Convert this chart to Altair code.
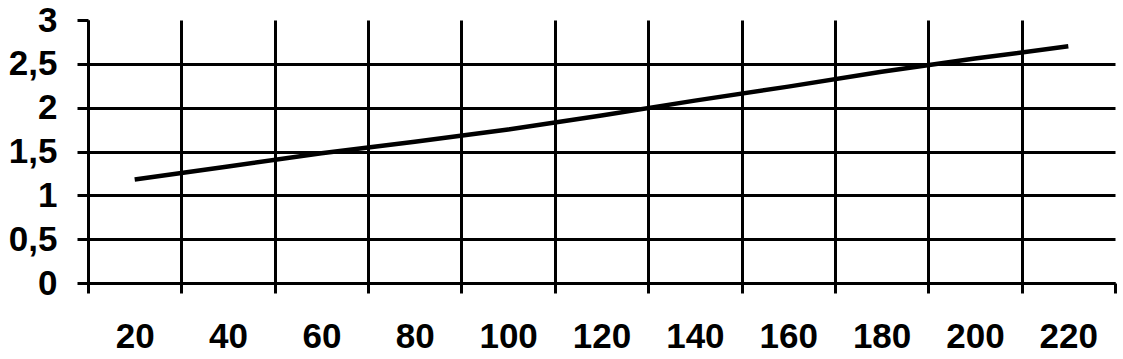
import altair as alt
import pandas as pd

# Data
x_vals = [20, 40, 60, 80, 100, 120, 140, 160, 180, 200, 220]
y_vals = [1.18, 1.33, 1.48, 1.61, 1.75, 1.91, 2.08, 2.24, 2.41, 2.56, 2.70]
x_tick_values = [10, 20, 30, 40, 50, 60, 70, 80, 90, 100, 110, 120,
                 130, 140, 150, 160, 170, 180, 190, 200, 210, 220, 230]
y_tick_values = [0, 0.5, 1, 1.5, 2, 2.5, 3]

df = pd.DataFrame({"x": x_vals, "y": y_vals})

FONT = "Liberation Sans"

x_axis = alt.Axis(
    values=x_tick_values,
    title=None,
    labelExpr="datum.value % 20 == 0 ? datum.label : ''",
    labelFont=FONT,
    labelFontSize=35,
    labelFontWeight="bold",
    labelColor="black",
    labelPadding=26,
    labelAngle=0,
    labelOverlap=False,
    labelFlush=False,
    domainColor="black",
    domainWidth=3,
    ticks=True,
    tickColor="black",
    tickWidth=3,
    tickSize=10,
    tickOpacity={"condition": {"test": "datum.value % 20 == 0", "value": 0}, "value": 1},
    grid=True,
    gridColor="black",
    gridWidth=3,
    gridOpacity={"condition": {"test": "datum.value % 20 == 0 || datum.value == 230", "value": 0}, "value": 1},
)

y_axis = alt.Axis(
    values=y_tick_values,
    title=None,
    labelExpr="replace(format(datum.value, '~g'), '.', ',')",
    labelFont=FONT,
    labelFontSize=35,
    labelFontWeight="bold",
    labelColor="black",
    labelPadding=20,
    labelOverlap=False,
    labelFlush=False,
    domainColor="black",
    domainWidth=3,
    ticks=True,
    tickColor="black",
    tickWidth=3,
    tickSize=11,
    grid=True,
    gridColor="black",
    gridWidth=3,
    gridOpacity={"condition": {"test": "datum.value == 3", "value": 0}, "value": 1},
)

chart = (
    alt.Chart(df)
    .mark_line(color="black", strokeWidth=4.5)
    .encode(
        x=alt.X("x:Q", scale=alt.Scale(domain=[10, 230], nice=False, zero=False), axis=x_axis),
        y=alt.Y("y:Q", scale=alt.Scale(domain=[0, 3], nice=False, zero=True), axis=y_axis),
    )
    .properties(
        width=1027,
        height=263,
        autosize=alt.AutoSizeParams(type="none"),
        padding={"left": 88, "top": 20, "right": 8, "bottom": 76},
        background="white",
    )
    .configure_view(stroke=None)
)

chart.save("out.html", embed_options={"renderer": "svg", "actions": False})
